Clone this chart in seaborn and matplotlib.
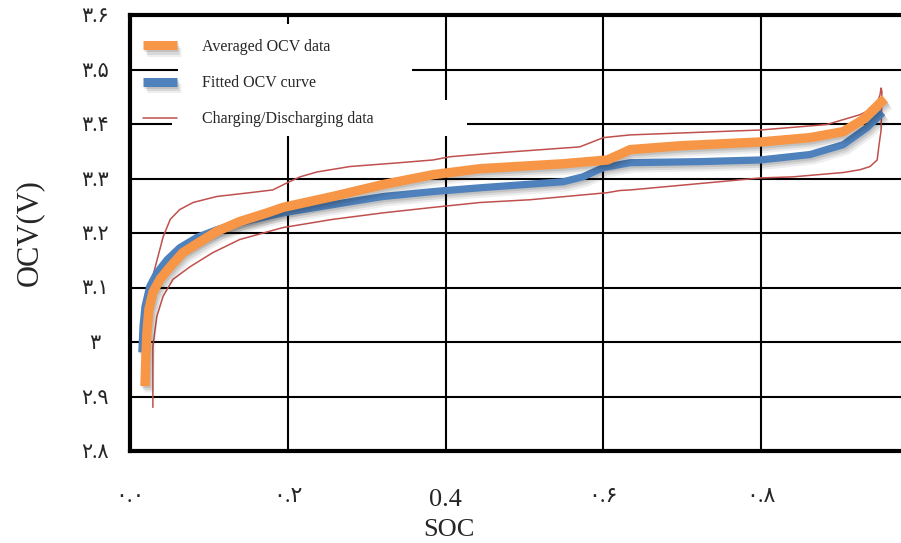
import numpy as np
import pandas as pd
import matplotlib
matplotlib.use("Agg")
import matplotlib.pyplot as plt
import matplotlib.patheffects as pe
from matplotlib.lines import Line2D
from matplotlib.patches import Rectangle
import seaborn as sns

# Averaged OCV data (SOC, V)
soc_avg = [0.019, 0.020, 0.0215, 0.024, 0.029, 0.038, 0.051, 0.067, 0.089, 0.110,
           0.139, 0.174, 0.194, 0.257, 0.321, 0.384, 0.444, 0.549, 0.605,
           0.625, 0.634, 0.697, 0.799, 0.862, 0.904, 0.929, 0.942, 0.951, 0.957]
ocv_avg = [2.919, 2.968, 3.018, 3.060, 3.091, 3.115, 3.138, 3.164, 3.184, 3.203,
           3.221, 3.237, 3.247, 3.267, 3.289, 3.307, 3.318, 3.327, 3.334,
           3.347, 3.353, 3.360, 3.367, 3.375, 3.386, 3.408, 3.426, 3.439, 3.446]

# Fitted OCV curve
soc_fit = [0.015, 0.0165, 0.019, 0.025, 0.034, 0.047, 0.063, 0.085, 0.110, 0.139,
           0.194, 0.257, 0.321, 0.384, 0.444, 0.549, 0.574, 0.600, 0.634,
           0.722, 0.799, 0.862, 0.904, 0.934, 0.954]
ocv_fit = [2.981, 3.029, 3.065, 3.102, 3.127, 3.151, 3.173, 3.192, 3.206, 3.219,
           3.237, 3.252, 3.267, 3.276, 3.283, 3.294, 3.303, 3.320, 3.329,
           3.331, 3.334, 3.344, 3.362, 3.393, 3.421]

# Charging branch
soc_charge = [0.029, 0.030, 0.0355, 0.042, 0.051, 0.063, 0.080, 0.110, 0.152, 0.181,
              0.199, 0.2155, 0.237, 0.279, 0.342, 0.384, 0.406, 0.465, 0.570, 0.600,
              0.634, 0.799, 0.883, 0.925, 0.938, 0.947, 0.9505, 0.952]
ocv_charge = [3.105, 3.127, 3.157, 3.193, 3.225, 3.243, 3.256, 3.267, 3.274, 3.279,
              3.292, 3.303, 3.312, 3.322, 3.329, 3.334, 3.340, 3.347, 3.358, 3.375,
              3.380, 3.389, 3.399, 3.417, 3.426, 3.439, 3.453, 3.466]

# Discharging branch
soc_discharge = [0.953, 0.952, 0.949, 0.947, 0.938, 0.925, 0.904, 0.840, 0.799, 0.634,
                 0.621, 0.605, 0.507, 0.444, 0.384, 0.321, 0.257, 0.194, 0.139, 0.105,
                 0.076, 0.0545, 0.042, 0.034, 0.029, 0.029, 0.029]
ocv_discharge = [3.459, 3.389, 3.358, 3.334, 3.322, 3.316, 3.311, 3.303, 3.301, 3.279,
                 3.278, 3.274, 3.261, 3.256, 3.247, 3.237, 3.225, 3.210, 3.188, 3.164,
                 3.138, 3.115, 3.084, 3.047, 2.992, 2.937, 2.880]

x_ticks = [0.0, 0.2, 0.4, 0.6, 0.8]
x_ticklabels = ["۰.۰", "۰.۲", "0.4", "۰.۶", "۰.۸"]
y_ticks = [2.8, 2.9, 3.0, 3.1, 3.2, 3.3, 3.4, 3.5, 3.6]
y_ticklabels = ["۲.۸", "۲.۹", "۳", "۳.۱", "۳.۲", "۳.۳", "۳.۴", "۳.۵", "۳.۶"]

ORANGE = "#F79646"
BLUE = "#4F81BD"
RED = "#C0504D"

sns.set_theme(style="white")
plt.rcParams["font.family"] = ["Liberation Serif", "DejaVu Sans"]

W, H = 901, 543
fig = plt.figure(figsize=(W / 100, H / 100), dpi=100)
ax = fig.add_axes([130 / W, 1 - 451 / H, 771 / W, 436 / H])


def ax_frac(px, py):
    """Pixel position in the figure -> axes fraction."""
    return (px - 130) / 771, 1 - (py - 15) / 436


loop = pd.DataFrame({
    "SOC": soc_charge + soc_discharge,
    "OCV": ocv_charge + ocv_discharge,
})
avg = pd.DataFrame({"SOC": soc_avg, "OCV": ocv_avg})
fit = pd.DataFrame({"SOC": soc_fit, "OCV": ocv_fit})

shadow = [
    pe.SimpleLineShadow(offset=(1.0, -1.5), shadow_color="k", alpha=0.12),
    pe.SimpleLineShadow(offset=(2.0, -3.0), shadow_color="k", alpha=0.10),
    pe.SimpleLineShadow(offset=(3.0, -4.5), shadow_color="k", alpha=0.07),
    pe.Normal(),
]

sns.lineplot(data=loop, x="SOC", y="OCV", sort=False, estimator=None,
             color=RED, lw=1.1, ax=ax, zorder=3)
sns.lineplot(data=fit, x="SOC", y="OCV", sort=False, estimator=None,
             color=BLUE, lw=5.2, ax=ax, zorder=4, path_effects=shadow,
             solid_capstyle="butt", solid_joinstyle="round")
sns.lineplot(data=avg, x="SOC", y="OCV", sort=False, estimator=None,
             color=ORANGE, lw=6.8, ax=ax, zorder=5, path_effects=shadow,
             solid_capstyle="butt", solid_joinstyle="round")

ax.set_xlim(0, 771 / 789)
ax.set_ylim(2.8, 3.6)
ax.set_xticks(x_ticks)
ax.set_xticklabels(x_ticklabels, fontsize=16)
for lab in ax.get_xticklabels():
    if lab.get_text() == "0.4":
        lab.set_fontsize(19)
ax.set_yticks(y_ticks)
ax.set_yticklabels(y_ticklabels, fontsize=15, ha="center")
ax.tick_params(axis="x", length=0, pad=27)
ax.tick_params(axis="y", length=0, pad=25)
ax.set_xlabel("SOC", fontsize=19)
ax.xaxis.set_label_coords(ax_frac(449, 0)[0], ax_frac(0, 541)[1])
ax.xaxis.label.set_va("bottom")
ax.set_ylabel("OCV(V)", fontsize=22)
ax.yaxis.set_label_coords(ax_frac(29, 0)[0], 0.5)
ax.yaxis.label.set_va("center")

ax.grid(True, color="black", lw=1.5)
ax.set_axisbelow(True)
for side in ("left", "bottom", "top"):
    ax.spines[side].set_color("black")
    ax.spines[side].set_linewidth(3)
ax.spines["right"].set_visible(False)

# white backing behind the legend entries
for (x0, y0, x1, y1) in [(178, 24, 412, 100), (172, 100, 467, 136)]:
    fx0, fy1 = ax_frac(x0, y0)
    fx1, fy0 = ax_frac(x1, y1)
    ax.add_patch(Rectangle((fx0, fy0), fx1 - fx0, fy1 - fy0,
                           transform=ax.transAxes, facecolor="white",
                           edgecolor="none", zorder=2))

handles = [
    Line2D([], [], color=ORANGE, lw=6.5, path_effects=shadow, solid_capstyle="butt"),
    Line2D([], [], color=BLUE, lw=6.5, path_effects=shadow, solid_capstyle="butt"),
    Line2D([], [], color=RED, lw=1.1),
]
labels = ["Averaged OCV data", "Fitted OCV curve", "Charging/Discharging data"]
leg = ax.legend(handles, labels, loc="upper left",
                bbox_to_anchor=ax_frac(135, 31),
                borderaxespad=0, borderpad=0.5, fontsize=11.5,
                handlelength=2.1, handletextpad=1.6, labelspacing=1.26,
                frameon=False)
leg.set_zorder(6)

fig.savefig("out.png", dpi=100)
